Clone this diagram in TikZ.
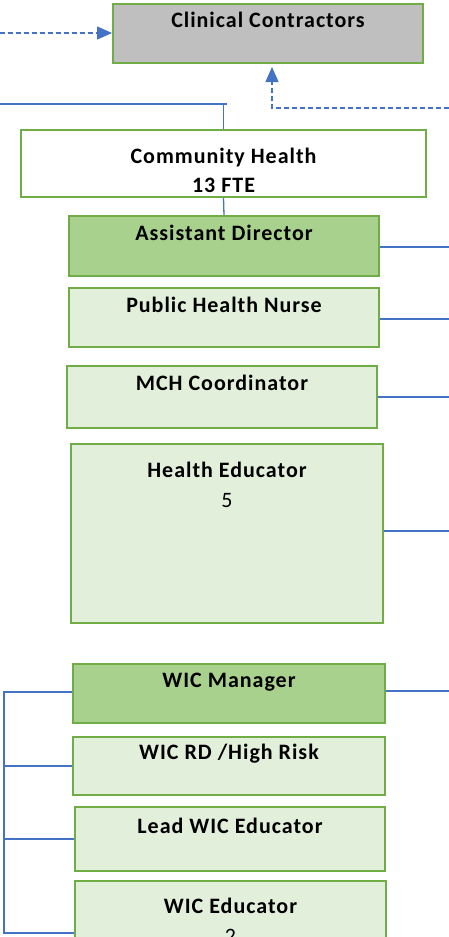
\documentclass[tikz,border=0pt]{standalone}
\usepackage{fontspec}
\setmainfont{Carlito}[LetterSpace=4.5]
\usetikzlibrary{arrows.meta}
\definecolor{gborder}{HTML}{70AD47}
\definecolor{gdark}{HTML}{A9D18E}
\definecolor{glight}{HTML}{E2EFDA}
\definecolor{ggray}{HTML}{BFBFBF}
\definecolor{cblue}{HTML}{4472C4}
\begin{document}
\begin{tikzpicture}[x=1pt,y=-1pt,
  box/.style={draw=gborder,line width=2pt,rectangle,inner sep=0pt},
  lbl/.style={anchor=base,inner sep=0pt,font=\fontsize{22}{26}\selectfont\bfseries},
  num/.style={anchor=base,inner sep=0pt,font=\fontsize{22}{26}\selectfont},
  conn/.style={draw=cblue,line width=1.3pt},
  dconn/.style={draw=cblue,line width=1.3pt,dash pattern=on 5pt off 3pt},
  tip/.style={-{Triangle[length=15pt,width=13pt]}}]
\useasboundingbox (0,0) rectangle (449,937);
% boxes
\node[box,fill=ggray,minimum width=310pt,minimum height=59pt] (cc) at (268,33.5) {};
\node[box,fill=white,minimum width=405pt,minimum height=67pt] (ch) at (223.5,163.5) {};
\node[box,fill=gdark,minimum width=310pt,minimum height=60pt] (ad) at (224,246) {};
\node[box,fill=glight,minimum width=310pt,minimum height=59pt] (phn) at (224,317.5) {};
\node[box,fill=glight,minimum width=310pt,minimum height=62pt] (mch) at (222,397) {};
\node[box,fill=glight,minimum width=312pt,minimum height=179pt] (he) at (227,533.5) {};
\node[box,fill=gdark,minimum width=312pt,minimum height=59pt] (wm) at (229,693.5) {};
\node[box,fill=glight,minimum width=312pt,minimum height=58pt] (wrd) at (229,766) {};
\node[box,fill=glight,minimum width=310pt,minimum height=64pt] (lwe) at (230,839) {};
\node[box,fill=glight,minimum width=311pt,minimum height=70pt] (we) at (230.5,916) {};
% labels
\node[lbl] (tcc) at (268,27) {Clinical Contractors};
\node[lbl] (tch) at (223.5,163) {Community Health};
\node[lbl] (tch2) at (223.5,192) {13 FTE};
\node[lbl] (tad) at (224,240) {Assistant Director};
\node[lbl] (tphn) at (224,312) {Public Health Nurse};
\node[lbl] (tmch) at (222,390) {MCH Coordinator};
\node[lbl] (the) at (227,477) {Health Educator};
\node[num] (the2) at (227,507) {5};
\node[lbl] (twm) at (229,687) {WIC Manager};
\node[lbl] (twrd) at (229,759) {WIC RD /High Risk};
\node[lbl] (tlwe) at (230,833) {Lead WIC Educator};
\node[lbl] (twe) at (230.5,913) {WIC Educator};
\node[num] (twe2) at (230.5,943) {2};
% coordinates at the free ends
\coordinate (dl) at (0,33);
\coordinate (dr) at (449,108);
\coordinate (du) at (272,108);
\coordinate (tl) at (0,104);
\coordinate (tr) at (227,104);
\coordinate (r1) at (449,247);
\coordinate (r2) at (449,319);
\coordinate (r3) at (449,397);
\coordinate (r4) at (449,531);
\coordinate (r5) at (449,691);
\coordinate (lt) at (4,692);
\coordinate (lb) at (4,933);
% connectors
\draw[dconn,tip] (dl) -- (dl -| cc.west);
\draw[dconn,tip,shorten >=3pt] (dr) -- (du) -- (du |- cc.south);
\draw[conn] (tl) -- (tr);
\draw[conn] (ch.north) -- (ch.north |- tl);
\draw[conn] (ch.south) -- (ad.north);
\draw[conn] (ad.east |- r1) -- (r1);
\draw[conn] (phn.east |- r2) -- (r2);
\draw[conn] (mch.east |- r3) -- (r3);
\draw[conn] (he.east |- r4) -- (r4);
\draw[conn] (wm.east |- r5) -- (r5);
\draw[conn] (wm.west |- lt) -- (lt) -- (lb) -- (we.west |- lb);
\draw[conn] (wrd.west) -- (wrd.west -| lt);
\draw[conn] (lwe.west) -- (lwe.west -| lt);
\end{tikzpicture}
\end{document}
